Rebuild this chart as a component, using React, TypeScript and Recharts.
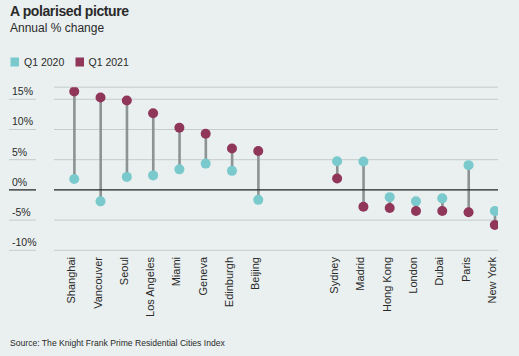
import * as React from 'react';
import {
  ComposedChart,
  Bar,
  Line,
  XAxis,
  YAxis,
  CartesianGrid,
  ReferenceLine
} from 'recharts';

// two blank slots split the risers from the fallers
const cities = [
  'Shanghai', 'Vancouver', 'Seoul', 'Los Angeles', 'Miami', 'Geneva', 'Edinburgh', 'Beijing',
  '', '',
  'Sydney', 'Madrid', 'Hong Kong', 'London', 'Dubai', 'Paris', 'New York'
];
const q2020 = [1.8, -1.9, 2.15, 2.4, 3.4, 4.35, 3.15, -1.65, null, null, 4.75, 4.7, -1.2, -1.9, -1.4, 4.1, -3.5];
const q2021 = [16.3, 15.3, 14.8, 12.7, 10.3, 9.3, 6.85, 6.45, null, null, 1.9, -2.8, -3.0, -3.5, -3.5, -3.7, -5.8];
const yTicks = [-10, -5, 0, 5, 10, 15];

const TEAL = '#79c9cd';
const PLUM = '#8f3659';
const STEM = '#8d9292';
const INK = '#2a2a2a';
const FONT = '"Liberation Sans", Arial, sans-serif';

const data = cities.map((city, i) => {
  const a = q2020[i];
  const b = q2021[i];
  return {
    idx: i,
    city,
    q2020: a,
    q2021: b,
    range: a == null || b == null ? null : [Math.min(a, b), Math.max(a, b)]
  };
});

const cityTicks = cities.map((c, i) => (c ? i : -1)).filter(i => i >= 0);

const YTick = (props: any) => {
  const { y, payload } = props;
  const zero = payload.value === 0;
  return (
    <g>
      <line x1={9} x2={36} y1={y} y2={y} stroke={zero ? INK : '#c6cccb'} strokeWidth={zero ? 1.3 : 1} />
      <text x={12} y={y - 4} fontSize={10.5} fill={INK} fontFamily={FONT}>
        {payload.value}%
      </text>
    </g>
  );
};

const XTick = (props: any) => {
  const { x, payload } = props;
  const name = cities[payload.value];
  if (!name) return null;
  return (
    <text
      transform={`translate(${x + 1},257) rotate(-90)`}
      textAnchor="end"
      fontSize={11}
      fill={INK}
      fontFamily={FONT}
    >
      {name}
    </text>
  );
};

export default function App() {
  return (
    <div style={{ position: 'absolute', left: 0, top: 0, width: 519, height: 356, background: '#e9f0ef' }}>
      <ComposedChart
        width={519}
        height={356}
        data={data}
        margin={{ top: 87.2, right: 21, left: 0, bottom: 35.7 }}
      >
        <CartesianGrid horizontal vertical={false} stroke="#c6cccb" />
        <XAxis
          type="number"
          dataKey="idx"
          domain={[-0.77, 16.12]}
          allowDataOverflow
          ticks={cityTicks}
          interval={0}
          axisLine={false}
          tickLine={false}
          height={70}
          tick={<XTick />}
        />
        <YAxis
          type="number"
          domain={[-10, 17]}
          allowDataOverflow
          ticks={yTicks}
          interval={0}
          axisLine={false}
          tickLine={false}
          width={54}
          tick={<YTick />}
        />
        <ReferenceLine y={0} stroke={INK} strokeWidth={1.3} />
        <Bar dataKey="range" fill={STEM} barSize={2.6} isAnimationActive={false} />
        <Line
          dataKey="q2020"
          stroke="none"
          dot={{ r: 5, fill: TEAL, stroke: 'none' }}
          activeDot={false}
          isAnimationActive={false}
        />
        <Line
          dataKey="q2021"
          stroke="none"
          dot={{ r: 5, fill: PLUM, stroke: 'none' }}
          activeDot={false}
          isAnimationActive={false}
        />
      </ComposedChart>
      <svg
        width={519}
        height={356}
        style={{ position: 'absolute', left: 0, top: 0, pointerEvents: 'none' }}
        fontFamily={FONT}
      >
        <text x={10} y={15.5} fontSize={14} fontWeight="bold" letterSpacing={-0.4} fill={INK}>A polarised picture</text>
        <text x={10} y={32} fontSize={12} fill={INK}>Annual % change</text>
        <rect x={10.5} y={57.5} width={8.5} height={9} fill={TEAL} />
        <text x={24} y={66} fontSize={10.5} fill={INK}>Q1 2020</text>
        <rect x={75.5} y={57.5} width={8.5} height={9} fill={PLUM} />
        <text x={88.5} y={66} fontSize={10.5} fill={INK}>Q1 2021</text>
        <text x={10} y={345.5} fontSize={8.6} fill={INK}>Source: The Knight Frank Prime Residential Cities Index</text>
      </svg>
    </div>
  );
}
